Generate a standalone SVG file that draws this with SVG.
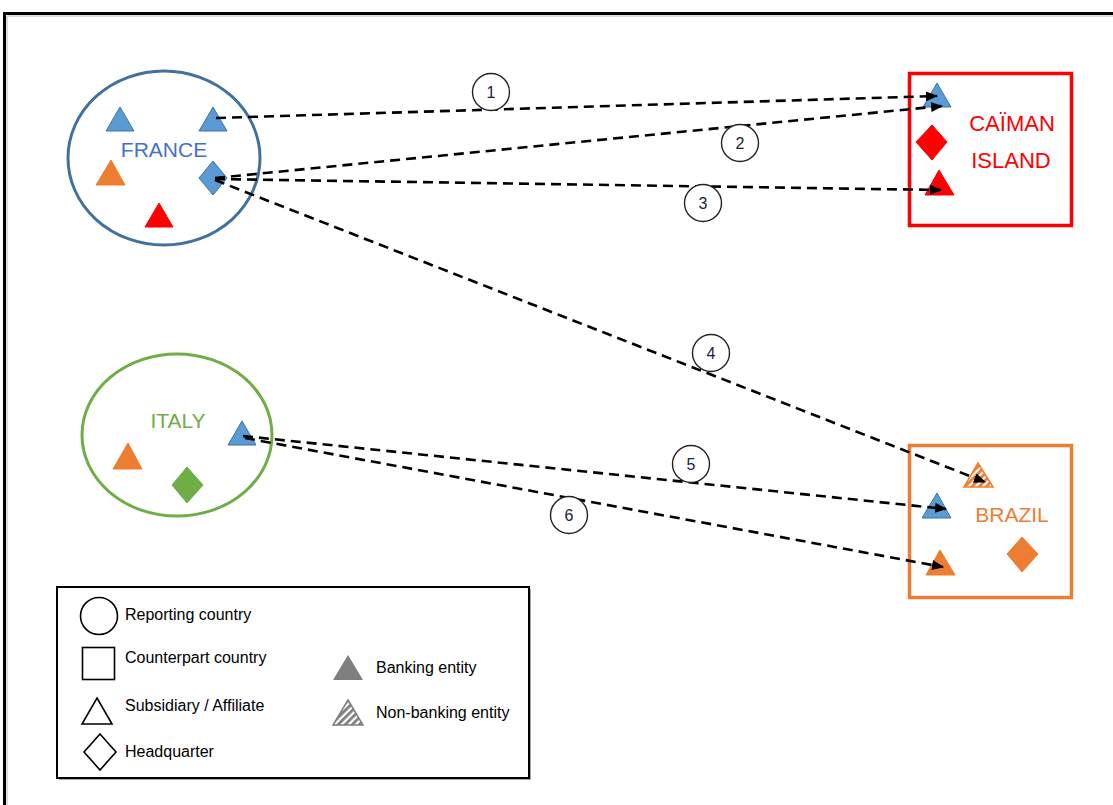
<svg xmlns="http://www.w3.org/2000/svg" width="1113" height="805" viewBox="0 0 1113 805">
<style>
text{font-family:"Liberation Sans",Arial,sans-serif}
.blue{fill:#5B9BD5;stroke:#41719C;stroke-width:1}
.orange{fill:#ED7D31;stroke:#ED7D31;stroke-width:1}
.red{fill:#FF0000;stroke:#FF0000;stroke-width:1}
.green{fill:#70AD47;stroke:#70AD47;stroke-width:1}
.conn{fill:none;stroke:#000;stroke-width:2.6;stroke-dasharray:10 6}
.num{fill:#fff;stroke:#222;stroke-width:1.4}
.numt{font-size:16px;fill:#1A2238;text-anchor:middle}
.leg{font-size:16px;fill:#000}
.lshape{fill:#fff;stroke:#000;stroke-width:1.6}
.country{font-size:21px;text-anchor:middle}
</style>
<defs>
<marker id="arr" markerUnits="userSpaceOnUse" markerWidth="12" markerHeight="10" refX="11" refY="5" orient="auto">
<path d="M0,0 L12,5 L0,10 Z" fill="#000"/>
</marker>
<pattern id="hatchO" width="5" height="5" patternUnits="userSpaceOnUse" patternTransform="rotate(45)">
<rect width="5" height="5" fill="#fff"/>
<rect width="2.8" height="5" fill="#ED7D31"/>
</pattern>
<pattern id="hatchG" width="5" height="5" patternUnits="userSpaceOnUse" patternTransform="rotate(45)">
<rect width="5" height="5" fill="#fff"/>
<rect width="2.8" height="5" fill="#7F7F7F"/>
</pattern>
</defs>
<rect width="1113" height="805" fill="#fff"/>
<path d="M4.5,805 V13.5 H1113" fill="none" stroke="#000" stroke-width="3"/>
<path d="M7,805 V16 H1113" fill="none" stroke="#bbb" stroke-width="1"/>

<g id="france">
<ellipse cx="164" cy="158" rx="96" ry="87" fill="none" stroke="#41719C" stroke-width="3"/>
<polygon class="blue" points="120,107 134,131 106,131"/>
<polygon class="blue" points="213,107 227,131 199,131"/>
<polygon class="orange" points="111,160 125,185 96,185"/>
<polygon class="red" points="159,203 173,227 145,227"/>
<polygon class="blue" points="213,161 227,178 213,195 199,178"/>
<text class="country" x="164" y="157" fill="#4472C4">FRANCE</text>
</g>

<g id="italy">
<ellipse cx="177" cy="435" rx="95" ry="81" fill="none" stroke="#70AD47" stroke-width="3"/>
<text class="country" x="178" y="428" fill="#70AD47">ITALY</text>
<polygon class="blue" points="242,421 256,445 228,445"/>
<polygon class="orange" points="128,443 142,469 113,469"/>
<polygon class="green" points="187,467 203,485 187,503 172,485"/>
</g>

<g id="caiman">
<rect x="909.5" y="73.5" width="162" height="152" fill="none" stroke="#FF0000" stroke-width="3.5"/>
<polygon class="blue" points="937,83 951,107 923,107"/>
<polygon class="red" points="932,125 947,142 932,160 916,142"/>
<polygon class="red" points="939,170 954,195 925,195"/>
<text x="1012" y="131" font-size="22" text-anchor="middle" fill="#FF0000">CAÏMAN</text>
<text x="1011" y="168" font-size="22" text-anchor="middle" fill="#FF0000">ISLAND</text>
</g>

<g id="brazil">
<rect x="909.5" y="445.5" width="162" height="152" fill="none" stroke="#ED7D31" stroke-width="3.5"/>
<polygon points="978,463 993,487 964,487" fill="url(#hatchO)" stroke="#ED7D31" stroke-width="1.5"/>
<polygon class="blue" points="937,493 951,518 922,518"/>
<text class="country" x="1012" y="522" fill="#ED7D31">BRAZIL</text>
<polygon class="orange" points="940,550 955,575 926,575"/>
<polygon class="orange" points="1022,537 1038,554 1022,572 1007,554"/>
</g>

<g id="connectors">
<line class="conn" x1="216" y1="118" x2="937" y2="96" marker-end="url(#arr)"/>
<line class="conn" x1="215" y1="178" x2="942" y2="106" marker-end="url(#arr)"/>
<line class="conn" x1="215" y1="179" x2="941" y2="190" marker-end="url(#arr)"/>
<line class="conn" x1="215" y1="180" x2="985" y2="482" marker-end="url(#arr)"/>
<line class="conn" x1="243" y1="436" x2="946" y2="509" marker-end="url(#arr)"/>
<line class="conn" x1="245" y1="438" x2="943" y2="567" marker-end="url(#arr)"/>
</g>

<g id="labels">
<circle class="num" cx="491" cy="92" r="18.5"/><text class="numt" x="491" y="98">1</text>
<circle class="num" cx="740" cy="143" r="18.5"/><text class="numt" x="740" y="149">2</text>
<circle class="num" cx="703" cy="203" r="18.5"/><text class="numt" x="703" y="209">3</text>
<circle class="num" cx="711" cy="353" r="18.5"/><text class="numt" x="711" y="359">4</text>
<circle class="num" cx="691" cy="464" r="18.5"/><text class="numt" x="691" y="470">5</text>
<circle class="num" cx="569" cy="515" r="18.5"/><text class="numt" x="569" y="521">6</text>
</g>

<g id="legend">
<rect x="59" y="589" width="472" height="191" fill="#aaa"/>
<rect x="57" y="587" width="472" height="191" fill="#fff" stroke="#000" stroke-width="2"/>
<circle class="lshape" cx="99" cy="616" r="18.5"/>
<text class="leg" x="125" y="620">Reporting country</text>
<rect class="lshape" x="82.5" y="647.5" width="32" height="32" stroke-width="2"/>
<text class="leg" x="125" y="663">Counterpart country</text>
<polygon class="lshape" points="97,698 112,724 82,724"/>
<text class="leg" x="125" y="711">Subsidiary / Affiliate</text>
<polygon class="lshape" points="100,734 116,752 100,770 84,752"/>
<text class="leg" x="125" y="757">Headquarter</text>
<polygon points="348,655 363,680 333,680" fill="#7F7F7F"/>
<text class="leg" x="376" y="673">Banking entity</text>
<polygon points="348,700 363,725 333,725" fill="url(#hatchG)" stroke="#7F7F7F" stroke-width="1.5"/>
<text class="leg" x="376" y="718">Non-banking entity</text>
</g>
</svg>
